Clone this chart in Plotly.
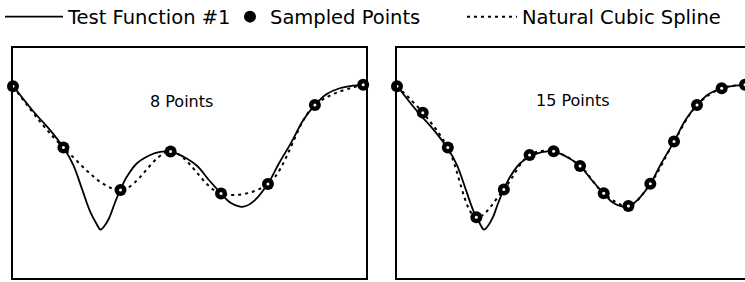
import plotly.graph_objects as go

# ---- data (x and y normalised to the panel range) ----
func_x = [0.000, 0.059, 0.106, 0.144, 0.172, 0.198, 0.220, 0.238, 0.250, 0.262,
          0.275, 0.290, 0.307, 0.325, 0.354, 0.392, 0.420, 0.450, 0.487, 0.526,
          0.560, 0.594, 0.620, 0.648, 0.665, 0.686, 0.728, 0.760, 0.796, 0.829,
          0.862, 0.896, 0.933, 0.970, 1.000]
func_y = [0.836, 0.723, 0.643, 0.567, 0.492, 0.383, 0.290, 0.237, 0.210, 0.228,
          0.262, 0.323, 0.385, 0.440, 0.499, 0.535, 0.548, 0.551, 0.527, 0.487,
          0.425, 0.368, 0.328, 0.310, 0.313, 0.332, 0.410, 0.500, 0.593, 0.687,
          0.752, 0.800, 0.825, 0.836, 0.840]

x8 = [0.000, 0.144, 0.307, 0.450, 0.594, 0.728, 0.862, 1.000]
y8 = [0.834, 0.567, 0.383, 0.550, 0.367, 0.409, 0.752, 0.840]

x15 = [0.000, 0.074, 0.146, 0.228, 0.307, 0.381, 0.450, 0.526, 0.594, 0.665,
       0.728, 0.796, 0.862, 0.933, 1.000]
y15 = [0.834, 0.719, 0.567, 0.264, 0.385, 0.535, 0.551, 0.487, 0.368, 0.313,
       0.410, 0.593, 0.752, 0.825, 0.840]

panel_titles = ["8 Points", "15 Points"]
legend_names = ["Test Function #1", "Sampled Points", "Natural Cubic Spline"]

FONT = "DejaVu Sans"
W, H = 745, 282

fig = go.Figure()

panels = [(x8, y8, "x", "y"), (x15, y15, "x2", "y2")]
for i, (px, py, xa, ya) in enumerate(panels):
    first = i == 0
    fig.add_trace(go.Scatter(
        x=func_x, y=func_y, xaxis=xa, yaxis=ya, mode="lines",
        line=dict(color="black", width=1.8, shape="spline", smoothing=1),
        name=legend_names[0], showlegend=first, legend="legend",
        cliponaxis=False, hoverinfo="skip"))
    fig.add_trace(go.Scatter(
        x=px, y=py, xaxis=xa, yaxis=ya, mode="lines",
        line=dict(color="black", width=2, dash="3px,4px", shape="spline", smoothing=1),
        name=legend_names[2], showlegend=first, legend="legend3",
        cliponaxis=False, hoverinfo="skip"))
    fig.add_trace(go.Scatter(
        x=px, y=py, xaxis=xa, yaxis=ya, mode="markers",
        marker=dict(color="black", size=12, line=dict(width=0)),
        name=legend_names[1], showlegend=first, legend="legend2",
        cliponaxis=False))
    fig.add_trace(go.Scatter(
        x=px, y=py, xaxis=xa, yaxis=ya, mode="markers",
        marker=dict(color="white", size=3, line=dict(width=0)),
        showlegend=False, cliponaxis=False, hoverinfo="skip"))

axis_common = dict(showgrid=False, zeroline=False, showticklabels=False,
                   linecolor="black", linewidth=1.5, showline=True, ticks="")

legend_font = dict(size=19.5, family=FONT, color="black")

fig.update_layout(
    width=W, height=H,
    margin=dict(l=0, r=0, t=48, b=4, autoexpand=False),
    paper_bgcolor="white", plot_bgcolor="white",
    font=dict(family=FONT, color="black"),
    xaxis=dict(domain=[13 / W, 366 / W], range=[0, 1.008], mirror=True,
               **axis_common),
    yaxis=dict(domain=[0, 1], range=[0, 1], mirror=True, **axis_common),
    xaxis2=dict(domain=[397 / W, 1.0], range=[0, 1.0], mirror=True,
                anchor="y2", **axis_common),
    yaxis2=dict(domain=[0, 1], range=[0, 1], mirror=False, anchor="x2",
                **axis_common),
    legend=dict(orientation="h", x=0 / W, y=1.135, xanchor="left", yanchor="middle",
                font=legend_font, itemwidth=58,
                bgcolor="rgba(0,0,0,0)", borderwidth=0),
    legend2=dict(orientation="h", x=230 / W, y=1.135, xanchor="left", yanchor="middle",
                 font=legend_font, itemwidth=30,
                 bgcolor="rgba(0,0,0,0)", borderwidth=0),
    legend3=dict(orientation="h", x=462 / W, y=1.135, xanchor="left", yanchor="middle",
                 font=legend_font, itemwidth=50,
                 bgcolor="rgba(0,0,0,0)", borderwidth=0),
    annotations=[
        dict(text=panel_titles[0], x=0.48, y=0.767, xref="x", yref="y",
             showarrow=False, font=dict(size=16, family=FONT, color="black")),
        dict(text=panel_titles[1], x=0.506, y=0.77, xref="x2", yref="y2",
             showarrow=False, font=dict(size=16, family=FONT, color="black")),
    ],
)

fig.write_html(
    "out.html",
    config={"displayModeBar": False},
    post_script="document.body.style.margin='0px';document.body.style.overflow='hidden';",
)
